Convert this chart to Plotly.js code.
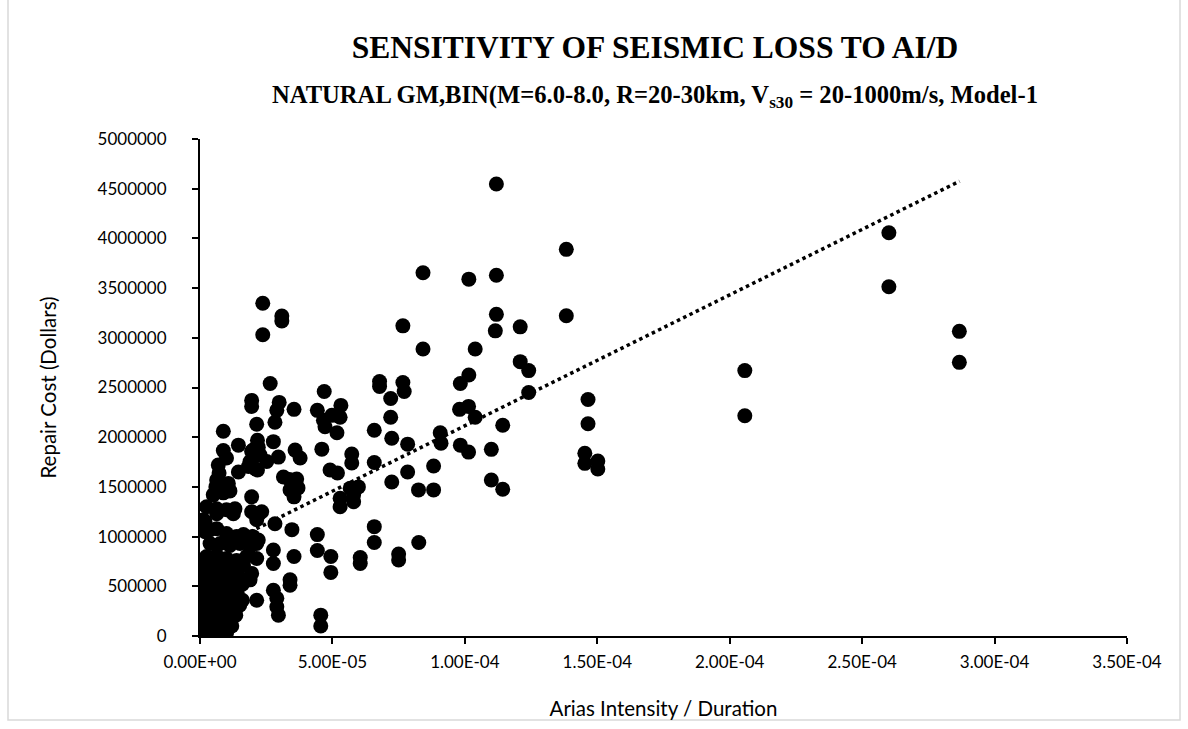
<!DOCTYPE html>
<html>
<head>
<meta charset="utf-8">
<script src="https://cdn.plot.ly/plotly-3.0.1.min.js"></script>
<style>
html,body{margin:0;padding:0;background:#fff;}
#chart{width:1188px;height:729px;}
</style>
</head>
<body>
<div id="chart"></div>
<script>
// Arias Intensity / Duration (x) and Repair Cost in dollars (y)
const ariasIntensityPerDuration = [
  11.19e-5, 2.37e-5, 3.09e-5, 3.09e-5, 2.37e-5, 8.42e-5, 10.15e-5, 11.19e-5, 11.19e-5, 11.15e-5,
  7.66e-5, 8.42e-5, 10.39e-5, 10.15e-5, 9.83e-5, 2.65e-5, 4.69e-5, 6.78e-5, 6.78e-5, 7.66e-5,
  7.71e-5, 13.83e-5, 13.83e-5, 12.09e-5, 12.09e-5, 12.41e-5, 12.41e-5, 20.57e-5, 20.57e-5, 26.01e-5,
  26.01e-5, 28.67e-5, 28.67e-5, 11.43e-5, 11.0e-5, 11.0e-5, 11.43e-5, 14.65e-5, 14.65e-5, 14.53e-5,
  14.53e-5, 15.02e-5, 15.02e-5, 7.2e-5, 4.43e-5, 5.32e-5, 4.66e-5, 4.98e-5, 5.29e-5, 4.72e-5,
  5.17e-5, 7.2e-5, 6.58e-5, 7.24e-5, 7.84e-5, 4.6e-5, 5.73e-5, 5.73e-5, 4.91e-5, 5.19e-5,
  6.58e-5, 7.24e-5, 7.84e-5, 8.25e-5, 8.82e-5, 8.82e-5, 9.07e-5, 9.1e-5, 9.8e-5, 10.14e-5,
  10.39e-5, 9.83e-5, 10.14e-5, 3.15e-5, 3.38e-5, 3.65e-5, 3.4e-5, 3.55e-5, 3.7e-5, 5.67e-5,
  5.98e-5, 5.8e-5, 5.29e-5, 5.29e-5, 5.8e-5, 4.43e-5, 4.43e-5, 4.94e-5, 4.94e-5, 3.55e-5,
  6.05e-5, 6.05e-5, 6.58e-5, 6.58e-5, 7.5e-5, 7.5e-5, 8.26e-5, 4.56e-5, 4.56e-5,
  1.95e-5, 1.95e-5, 2.99e-5, 2.9e-5, 3.55e-5, 2.14e-5, 2.83e-5, 0.88e-5, 2.17e-5, 1.45e-5,
  2.77e-5, 0.88e-5, 1.95e-5, 2.27e-5, 2.96e-5, 3.59e-5, 3.78e-5, 1.0e-5, 0.69e-5, 1.45e-5,
  2.17e-5, 1.89e-5, 0.63e-5, 0.76e-5, 1.07e-5, 0.5e-5, 1.95e-5, 0.63e-5, 1.32e-5, 1.95e-5,
  2.33e-5, 2.14e-5, 2.83e-5, 0.19e-5, 0.19e-5, 3.47e-5, 2.77e-5, 2.77e-5, 3.4e-5, 3.4e-5,
  2.77e-5, 2.9e-5, 2.96e-5, 2.14e-5, 1.32e-5, 2.0e-5, 2.2e-5, 2.52e-5, 1.83e-5, 0.72e-5,
  2.1e-5, 0.6e-5, 0.9e-5, 0.88e-5, 1.13e-5, 0.25e-5, 0.63e-5, 1.0e-5, 1.26e-5, 2.2e-5,
  0.13e-5, 0.38e-5, 0.63e-5, 1.0e-5, 1.38e-5, 1.64e-5, 2.0e-5, 2.2e-5, 0.38e-5, 0.76e-5,
  1.13e-5, 1.51e-5, 1.89e-5, 2.14e-5, 0.25e-5, 0.63e-5, 1.0e-5, 1.38e-5, 1.76e-5, 2.14e-5,
  0.13e-5, 0.5e-5, 0.88e-5, 1.26e-5, 1.64e-5, 1.89e-5, 1.95e-5, 2.9e-5,
  0.05e-5, 0.4e-5, 0.75e-5, 1.1e-5, 1.45e-5, 0.1e-5, 0.5e-5, 0.9e-5, 1.25e-5, 1.6e-5,
  0.02e-5, 0.35e-5, 0.7e-5, 1.05e-5, 1.4e-5, 0.15e-5, 0.55e-5, 0.95e-5, 1.3e-5, 1.6e-5,
  0.05e-5, 0.4e-5, 0.8e-5, 1.15e-5, 1.5e-5, 0.2e-5, 0.6e-5, 1.0e-5, 1.35e-5, 0.03e-5,
  0.35e-5, 0.75e-5, 1.1e-5, 0.15e-5, 0.5e-5, 0.9e-5, 1.2e-5, 0.02e-5, 0.3e-5, 0.65e-5,
  1.0e-5, 0.1e-5, 0.45e-5
];
const repairCost = [
  4547000, 3347000, 3220000, 3170000, 3030000, 3655000, 3590000, 3630000, 3236000, 3070000,
  3120000, 2887000, 2887000, 2626000, 2540000, 2540000, 2460000, 2560000, 2510000, 2550000,
  2460000, 3890000, 3222000, 3110000, 2760000, 2670000, 2450000, 2670000, 2216000, 4057000,
  3514000, 3065000, 2753000, 2120000, 1878000, 1569000, 1476000, 2380000, 2136000, 1838000,
  1737000, 1760000, 1680000, 2390000, 2270000, 2320000, 2170000, 2220000, 2200000, 2105000,
  2045000, 2200000, 2070000, 1990000, 1930000, 1880000, 1830000, 1740000, 1670000, 1640000,
  1746000, 1550000, 1650000, 1470000, 1470000, 1710000, 2045000, 1940000, 2280000, 2310000,
  2200000, 1920000, 1850000, 1600000, 1575000, 1580000, 1470000, 1400000, 1490000, 1486000,
  1500000, 1420000, 1385000, 1300000, 1350000, 1020000, 860000, 800000, 640000, 800000,
  790000, 730000, 1100000, 940000, 825000, 765000, 940000, 210000, 100000,
  2370000, 2310000, 2350000, 2270000, 2280000, 2130000, 2150000, 2060000, 1970000, 1920000,
  1955000, 1865000, 1855000, 1820000, 1800000, 1870000, 1790000, 1790000, 1720000, 1650000,
  1670000, 1755000, 1570000, 1500000, 1535000, 1420000, 1400000, 1280000, 1280000, 1250000,
  1250000, 1170000, 1130000, 1150000, 1050000, 1070000, 865000, 730000, 565000, 510000,
  460000, 295000, 210000, 360000, 260000, 1870000, 1900000, 1755000, 1705000, 1640000,
  1680000, 1500000, 1500000, 1440000, 1460000, 1300000, 1230000, 1270000, 1230000, 1220000,
  1170000, 1070000, 1080000, 1030000, 1000000, 1020000, 1000000, 966000, 930000, 930000,
  910000, 930000, 900000, 930000, 800000, 810000, 780000, 760000, 800000, 780000,
  710000, 690000, 710000, 690000, 710000, 565000, 630000, 380000,
  660000, 630000, 600000, 640000, 600000, 560000, 550000, 530000, 560000, 520000,
  480000, 470000, 450000, 460000, 440000, 400000, 390000, 380000, 370000, 360000,
  320000, 310000, 300000, 290000, 310000, 240000, 230000, 220000, 210000, 170000,
  160000, 150000, 140000, 100000, 90000, 80000, 100000, 40000, 30000, 20000,
  30000, 0, 10000
];

// Linear trendline
const trendX = [0, 2.868e-4];
const trendIntercept = 798000;
const trendSlope = 1.317e10;

// Axis tick labels
const xTickVals = [0, 5e-5, 1e-4, 1.5e-4, 2e-4, 2.5e-4, 3e-4, 3.5e-4];
const xTickText = ["0.00E+00", "5.00E-05", "1.00E-04", "1.50E-04", "2.00E-04", "2.50E-04", "3.00E-04", "3.50E-04"];

const titleText = "SENSITIVITY OF SEISMIC LOSS TO AI/D";
const subtitleText = "NATURAL GM,BIN(M=6.0-8.0, R=20-30km, V<sub>s30</sub> = 20-1000m/s, Model-1";
const xTitle = "Arias Intensity / Duration";
const yTitle = "Repair Cost (Dollars)";

const trendY = trendX.map(v => trendIntercept + trendSlope * v);

const tickFont = {family: "Lato, 'Liberation Sans', sans-serif", size: 17, color: "#000"};
const axisTitleFont = {family: "Lato, 'Liberation Sans', sans-serif", size: 20.5, color: "#000"};
const serifFont = "'Liberation Serif', 'Times New Roman', serif";

const data = [
  {
    type: "scatter", mode: "lines", x: trendX, y: trendY,
    line: {color: "#000", width: 3.5, dash: "3.5px,3.5px"},
    hoverinfo: "skip", showlegend: false
  },
  {
    type: "scatter", mode: "markers", x: ariasIntensityPerDuration, y: repairCost,
    marker: {color: "#000", size: 15, line: {width: 0}},
    showlegend: false
  }
];

const layout = {
  width: 1188, height: 729,
  margin: {l: 200, r: 61, t: 139, b: 93},
  paper_bgcolor: "#fff", plot_bgcolor: "#fff",
  showlegend: false,
  title: {
    text: "<b>" + titleText + "</b>",
    font: {family: serifFont, size: 31.5, color: "#000"},
    xref: "container", x: 655 / 1188, xanchor: "center",
    yref: "container", y: 1 - 47 / 729, yanchor: "middle"
  },
  annotations: [{
    text: "<b>" + subtitleText + "</b>",
    xref: "paper", yref: "paper",
    x: (655 - 200) / 927, y: (636 - 96) / 497,
    xanchor: "center", yanchor: "middle", showarrow: false,
    font: {family: serifFont, size: 24.6, color: "#000"}
  }],
  shapes: [{
    type: "rect", xref: "paper", yref: "paper",
    x0: (8 - 200) / 927, x1: (1180 - 200) / 927,
    y0: (636 - 720) / 497, y1: (636 + 10) / 497,
    line: {color: "#d9d9d9", width: 1.5}, fillcolor: "rgba(0,0,0,0)", layer: "below"
  }],
  xaxis: {
    range: [0, 3.5e-4], tickvals: xTickVals, ticktext: xTickText,
    showline: true, linecolor: "#000", linewidth: 2,
    ticks: "outside", ticklen: 6, tickwidth: 2, tickcolor: "#000",
    showgrid: false, zeroline: false, tickfont: tickFont,
    ticklabelstandoff: 4,
    title: {text: xTitle, font: axisTitleFont, standoff: 30}
  },
  yaxis: {
    range: [0, 5000000], dtick: 500000, tick0: 0, tickformat: "d",
    showline: true, linecolor: "#000", linewidth: 2,
    ticks: "outside", ticklen: 6, tickwidth: 2, tickcolor: "#000",
    showgrid: false, zeroline: false, tickfont: tickFont,
    ticklabelstandoff: 22,
    title: {text: yTitle, font: axisTitleFont, standoff: 35}
  }
};

Plotly.newPlot("chart", data, layout, {displayModeBar: false, staticPlot: true});
</script>
</body>
</html>
